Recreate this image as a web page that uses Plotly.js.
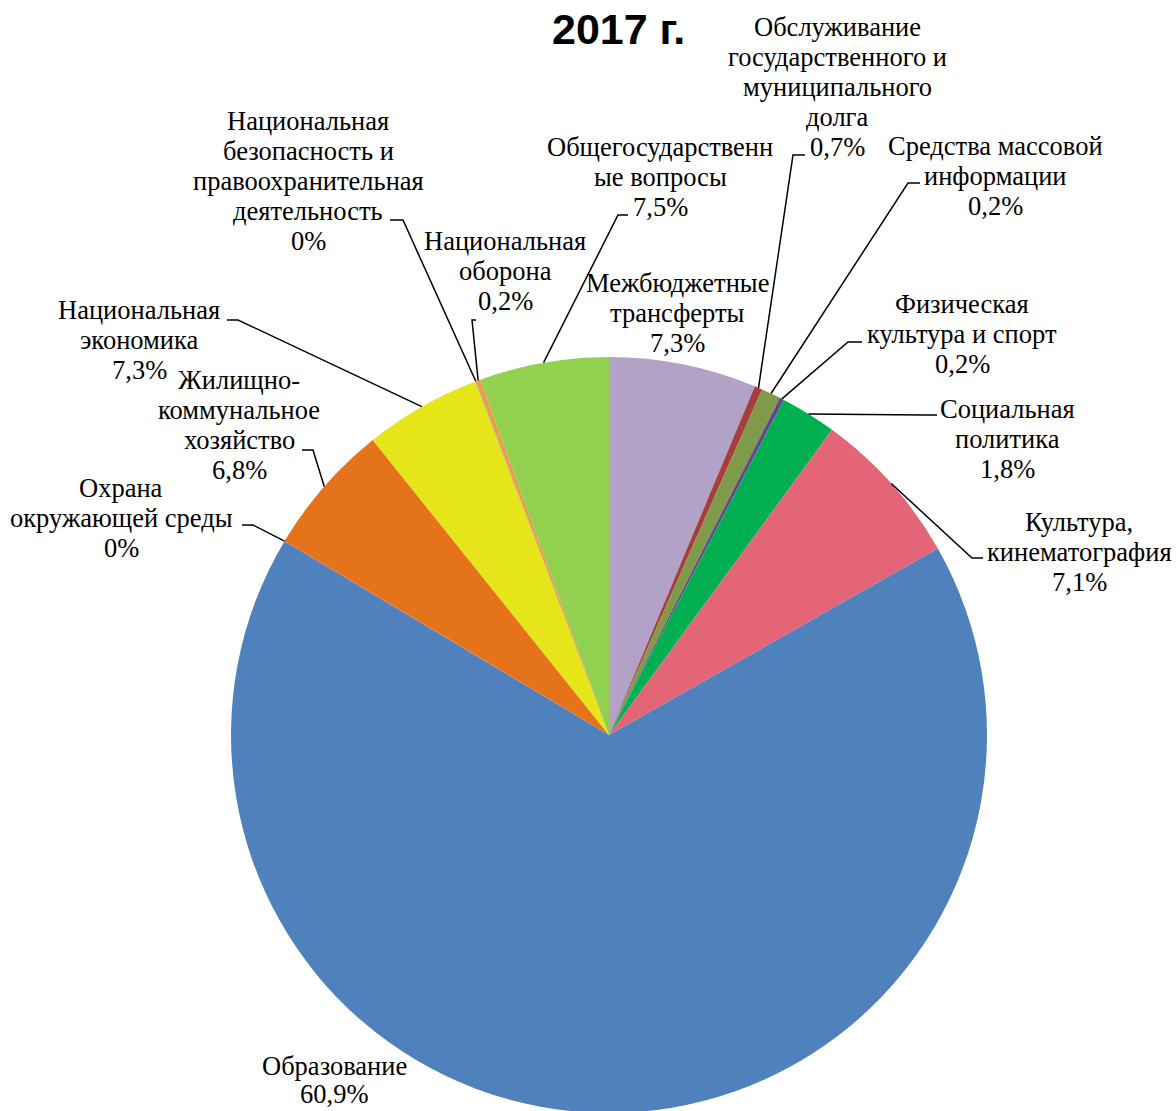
<!DOCTYPE html>
<html>
<head>
<meta charset="utf-8">
<script src="https://cdn.plot.ly/plotly-3.0.1.min.js"></script>
<style>
html,body{margin:0;padding:0;background:#fff;overflow:hidden;}
#chart{width:1176px;height:1130px;}
</style>
</head>
<body>
<div id="chart"></div>
<script>
// ---- data ----
const categories = [
  "Общегосударственные вопросы",
  "Национальная оборона",
  "Национальная безопасность и правоохранительная деятельность",
  "Национальная экономика",
  "Жилищно-коммунальное хозяйство",
  "Охрана окружающей среды",
  "Образование",
  "Культура, кинематография",
  "Социальная политика",
  "Физическая культура и спорт",
  "Средства массовой информации",
  "Обслуживание государственного и муниципального долга",
  "Межбюджетные трансферты"
];
// printed percentages
const pctLabels = ["7,5%","0,2%","0%","7,3%","6,8%","0%","60,9%","7,1%","1,8%","0,2%","0,2%","0,7%","7,3%"];
// slice sizes as drawn in the picture (share of circle, %)
const sliceShare = [5.54, 0.18, 0.03, 5.0, 5.67, 0.03, 66.8, 6.75, 2.39, 0.19, 0.83, 0.33, 6.31];
// label text as wrapped in the picture
const wrappedNames = [
  ["Общегосударственн","ые вопросы"],
  ["Национальная","оборона"],
  ["Национальная","безопасность и","правоохранительная","деятельность"],
  ["Национальная","экономика"],
  ["Жилищно-","коммунальное","хозяйство"],
  ["Охрана","окружающей среды"],
  ["Образование"],
  ["Культура,","кинематография"],
  ["Социальная","политика"],
  ["Физическая","культура и спорт"],
  ["Средства массовой","информации"],
  ["Обслуживание","государственного и","муниципального","долга"],
  ["Межбюджетные","трансферты"]
];
const colors = ["#92D050","#F79646","#4BACC6","#E5E51A","#E4731A","#C0504D","#4F81BD",
                "#E46478","#00B050","#5F4B8B","#7F9A48","#A63E3B","#B2A2C7"];

// ---- layout geometry ----
const W = 1176, H = 1130;
const CX = 609, CY = 735, R = 378;
const LINE = 30;
// label block: center x, first line center y
const labelPos = [
  [660,147],[505,241],[308,121],[139,310],[239,380],[121,488],[334,1066],
  [1079,522],[1007,409],[962,304],[995,146],[837,27],[677,283]
];
// leader stub: [x start, x end, y]; null = no leader
const stubs = [
  [628,618,215],[476,472,320],[390,403,220],[227,238,320],[302,313,450],[242,253,525],null,
  [983,972,558],[937,925,415],[862,848,342],[920,908,183],[805,793,155],null
];

const px = x => x / W;
const py = y => 1 - y / H;

// slices run counterclockwise from 12 o'clock in data order
const total = sliceShare.reduce((a,b)=>a+b,0);
let cum = 0;
const midAngles = sliceShare.map(v => { const m = cum + v/2; cum += v; return m/total*2*Math.PI; });

const shapes = [];
const annotations = [];
categories.forEach((c,i) => {
  const lines = wrappedNames[i].concat([pctLabels[i]]);
  const [lx, ly] = labelPos[i];
  const step = (i === 6) ? 28 : LINE;
  lines.forEach((t,k) => {
    annotations.push({
      x: px(lx), y: py(ly + k*step), xref:'paper', yref:'paper',
      xanchor:'center', yanchor:'middle', showarrow:false, text:t,
      font:{family:'"Liberation Serif","Times New Roman",serif', size:26.5, color:'#000'}
    });
  });
  const s = stubs[i];
  if (s) {
    const a = midAngles[i];
    const ex = CX - R*Math.sin(a), ey = CY - R*Math.cos(a);
    shapes.push({
      type:'path', xref:'paper', yref:'paper',
      path:`M ${px(s[0])},${py(s[2])} L ${px(s[1])},${py(s[2])} L ${px(ex)},${py(ey)}`,
      line:{color:'#000', width:1.5}
    });
  }
});

annotations.push({
  x: px(618), y: py(29), xref:'paper', yref:'paper', xanchor:'center', yanchor:'middle',
  showarrow:false, text:'<b>2017 г.</b>',
  font:{family:'"Liberation Sans", Arial, sans-serif', size:43, color:'#000'}
});

// Plotly draws clockwise from 12 o'clock: feed the data reversed
const rev = a => a.slice().reverse();
const trace = {
  type:'pie',
  labels: rev(categories),
  values: rev(sliceShare),
  sort:false,
  direction:'clockwise',
  rotation:0,
  textinfo:'none',
  hoverinfo:'label',
  marker:{colors: rev(colors), line:{width:0}},
  domain:{x:[(CX-R)/W,(CX+R)/W], y:[(H-CY-R)/H,(H-CY+R)/H]},
  showlegend:false
};

Plotly.newPlot('chart',[trace],{
  width:W, height:H,
  margin:{l:0,r:0,t:0,b:0},
  paper_bgcolor:'#fff',
  showlegend:false,
  shapes: shapes,
  annotations: annotations
},{staticPlot:true});
</script>
</body>
</html>
